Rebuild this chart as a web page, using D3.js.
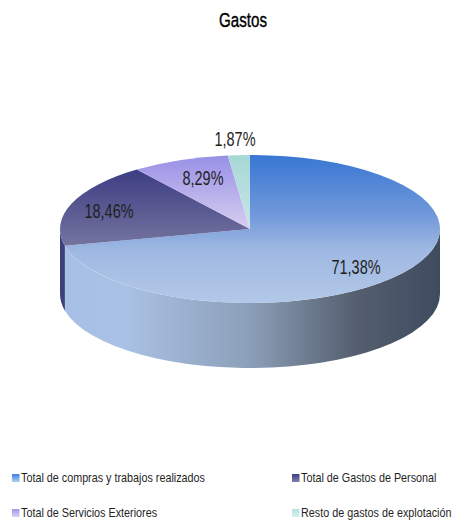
<!DOCTYPE html>
<html><head><meta charset="utf-8">
<script src="https://cdn.jsdelivr.net/npm/d3@7"></script>
<style>html,body{margin:0;padding:0;background:#fff}svg{display:block}
text{font-family:"Liberation Sans",sans-serif;fill:#1f1f1f}</style>
</head><body><svg id="c" width="453" height="524"></svg>
<script>
const titleText = "Gastos";
const categories = ["Total de compras y trabajos realizados","Total de Gastos de Personal","Total de Servicios Exteriores","Resto de gastos de explotación"];
const values = [71.38,18.46,8.29,1.87];
const labels = ["71,38%","18,46%","8,29%","1,87%"];
const legendColors = [["#3f80dc","#b4cdf0"],["#3f3f85","#8080aa"],["#9f98ea","#d8d2f4"],["#b5e2e2","#d5eef0"]];
const topStops = [
  [[0,"#3877d3"],[0.4,"#7098da"],[0.65,"#a0b9e2"],[1,"#b2c8e8"]],
  [[0,"#3d3d84"],[1,"#73739f"]],
  [[0,"#9890e6"],[1,"#d6cef0"]],
  [[0,"#a6d8d6"],[1,"#c8e4e6"]]
];
const wallStops = [[0,"#a6bfe4"],[0.17,"#a9c1e4"],[0.5,"#8c9fb8"],[0.78,"#545e6e"],[1,"#3e4c60"]];

const W=453,H=524,cx=250,cy=229,rx=190,ry=74,depth=65;
const svg=d3.select("#c"), defs=svg.append("defs");
svg.append("rect").attr("width",W).attr("height",H).attr("fill","#fff");

const narrow=(sel,x,y,sx)=>sel.attr("transform",`translate(${x},${y}) scale(${sx},1)`);

narrow(svg.append("text"),243,27,0.72).attr("text-anchor","middle")
  .attr("font-size",21).attr("stroke","#000").attr("stroke-width",0.4).style("fill","#000").text(titleText);

const pie=d3.pie().sort(null)(values);
const px=a=>cx+rx*Math.sin(a);
const py=a=>cy-ry*Math.cos(a);

const addGrad=(id,stops,attrs)=>{const g=defs.append("linearGradient").attr("id",id);
  Object.entries(attrs).forEach(([k,v])=>g.attr(k,v));
  g.selectAll("stop").data(stops).join("stop").attr("offset",d=>d[0]).attr("stop-color",d=>d[1]);};
addGrad("wall",wallStops,{gradientUnits:"userSpaceOnUse",x1:cx-rx,x2:cx+rx,y1:0,y2:0});
const tops=[[155,303],[170,245],[156,228],[155,228]];
topStops.forEach((s,i)=>addGrad("t"+i,s,{gradientUnits:"userSpaceOnUse",x1:0,x2:0,y1:tops[i][0],y2:tops[i][1]}));

const wallPath=(a0,a1)=>{
  const s=Math.max(a0,Math.PI/2), e=Math.min(a1,3*Math.PI/2);
  if(e<=s) return null;
  const big=e-s>Math.PI?1:0;
  return `M${px(s)},${py(s)}L${px(s)},${py(s)+depth}A${rx},${ry} 0 ${big} 1 ${px(e)},${py(e)+depth}L${px(e)},${py(e)}A${rx},${ry} 0 ${big} 0 ${px(s)},${py(s)}Z`;
};
const wallFills=["url(#wall)","#3f3f80","#3f3f80","#3f3f80"];
svg.append("g").selectAll("path").data(pie).join("path")
  .attr("d",d=>wallPath(d.startAngle,d.endAngle)).attr("fill",(d,i)=>wallFills[i]);

svg.append("g").selectAll("path").data(pie).join("path")
  .attr("d",d=>`M${cx},${cy}L${px(d.startAngle)},${py(d.startAngle)}A${rx},${ry} 0 ${d.endAngle-d.startAngle>Math.PI?1:0} 1 ${px(d.endAngle)},${py(d.endAngle)}Z`)
  .attr("fill",(d,i)=>`url(#t${i})`);

const labelPos=[[356,274],[109,218],[203,185],[235,146]];
svg.append("g").selectAll("text").data(labels).join("text")
  .attr("transform",(d,i)=>`translate(${labelPos[i][0]},${labelPos[i][1]}) scale(0.69,1)`)
  .attr("text-anchor","middle").attr("font-size",21).text(d=>d);

const legPos=[[12,482],[292,482],[12,517],[292,517]];
legendColors.forEach((c,i)=>addGrad("l"+i,[[0,c[0]],[1,c[1]]],{x1:0,x2:0,y1:0,y2:1}));
const leg=svg.append("g").selectAll("g").data(categories).join("g")
  .attr("transform",(d,i)=>`translate(${legPos[i][0]},${legPos[i][1]})`);
leg.append("rect").attr("x",0).attr("y",-8).attr("width",7.5).attr("height",8).attr("fill",(d,i)=>`url(#l${i})`);
leg.append("text").attr("transform","translate(9,0) scale(0.83,1)").attr("font-size",13).text(d=>d);
</script></body></html>
